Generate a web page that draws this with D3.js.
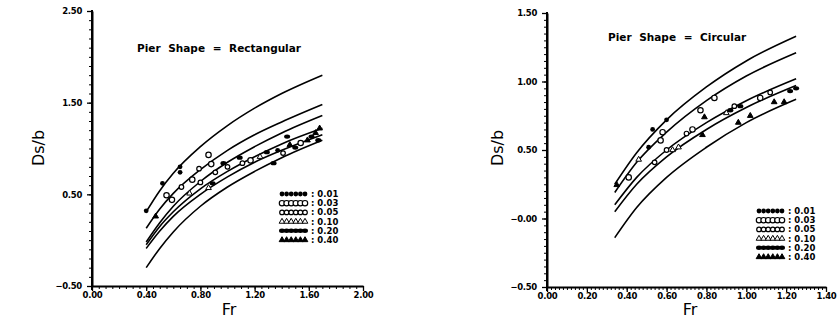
<!DOCTYPE html>
<html>
<head>
<meta charset="utf-8">
<script src="https://cdn.jsdelivr.net/npm/d3@7"></script>
<style>
  body { margin: 0; background: #fff; }
  svg { display: block; }
  .tick text { font-family: "DejaVu Sans", sans-serif; font-weight: bold; font-size: 8.5px; letter-spacing: -0.3px; fill: #000; }
</style>
</head>
<body>
<div id="chart"></div>
<script>
// legend / series labels (pier width ratio)
const seriesLabels = ["0.01", "0.03", "0.05", "0.10", "0.20", "0.40"];

// tick values
const rectXTicks = [0, 0.4, 0.8, 1.2, 1.6, 2.0];
const rectYTicks = [-0.5, 0.5, 1.5, 2.5];
const circXTicks = [0, 0.2, 0.4, 0.6, 0.8, 1.0, 1.2, 1.4];
const circYTicks = [-0.5, 0, 0.5, 1.0, 1.5];

// fitted curves, rectangular pier
const rectCurveFr = [0.4, 0.5, 0.6, 0.8, 1.0, 1.2, 1.4, 1.7];
const rectCurves = [
  [0.31, 0.54, 0.73, 1.02, 1.25, 1.44, 1.60, 1.80],
  [0.13, 0.34, 0.51, 0.77, 0.98, 1.15, 1.29, 1.48],
  [-0.02, 0.19, 0.37, 0.64, 0.85, 1.02, 1.17, 1.36],
  [-0.05, 0.15, 0.31, 0.56, 0.75, 0.91, 1.05, 1.22],
  [-0.09, 0.10, 0.26, 0.50, 0.69, 0.85, 0.98, 1.15],
  [-0.30, -0.09, 0.09, 0.37, 0.58, 0.75, 0.90, 1.09]
];

// fitted curves, circular pier
const circCurveFr = [0.34, 0.45, 0.6, 0.8, 1.0, 1.25];
const circCurves = [
  [0.25, 0.48, 0.72, 0.96, 1.15, 1.33],
  [0.19, 0.41, 0.63, 0.86, 1.04, 1.21],
  [0.10, 0.30, 0.50, 0.70, 0.86, 1.02],
  [0.05, 0.25, 0.45, 0.65, 0.81, 0.97],
  [-0.14, 0.08, 0.30, 0.52, 0.70, 0.87]
];

// measured points: Fr, Ds/b, series index
const rectFr = [0.40, 0.47, 0.52, 0.55, 0.59, 0.65, 0.65, 0.66, 0.72, 0.74, 0.80, 0.79, 0.86, 0.88, 0.86, 0.89, 0.91, 0.97, 1.00, 1.09, 1.11, 1.17, 1.24, 1.29, 1.34, 1.37, 1.41, 1.44, 1.46, 1.50, 1.54, 1.59, 1.62, 1.65, 1.67, 1.68];
const rectDs = [0.32, 0.26, 0.62, 0.49, 0.44, 0.80, 0.74, 0.58, 0.51, 0.66, 0.63, 0.78, 0.93, 0.83, 0.57, 0.62, 0.74, 0.84, 0.80, 0.90, 0.84, 0.87, 0.91, 0.96, 0.84, 0.98, 0.95, 1.13, 1.04, 1.01, 1.06, 1.09, 1.13, 1.17, 1.09, 1.22];
const rectSer = [0, 5, 0, 1, 1, 0, 0, 2, 3, 1, 2, 2, 1, 1, 3, 4, 2, 4, 2, 4, 2, 1, 3, 4, 4, 0, 2, 4, 5, 4, 1, 5, 4, 5, 4, 5];

const circFr = [0.35, 0.41, 0.46, 0.51, 0.53, 0.57, 0.58, 0.60, 0.54, 0.60, 0.63, 0.66, 0.70, 0.73, 0.78, 0.77, 0.79, 0.84, 0.90, 0.92, 0.94, 0.97, 0.96, 1.02, 1.07, 1.12, 1.14, 1.19, 1.22, 1.25];
const circDs = [0.245, 0.30, 0.43, 0.52, 0.65, 0.57, 0.63, 0.72, 0.41, 0.50, 0.50, 0.52, 0.62, 0.65, 0.61, 0.79, 0.74, 0.88, 0.77, 0.79, 0.82, 0.82, 0.70, 0.75, 0.88, 0.92, 0.85, 0.85, 0.93, 0.95];
const circSer = [5, 1, 3, 0, 0, 1, 1, 0, 2, 2, 3, 3, 2, 1, 5, 1, 5, 1, 3, 4, 2, 4, 5, 5, 1, 2, 5, 5, 4, 4];

const width = 838, height = 321;
const svg = d3.select("#chart").append("svg")
  .attr("width", width)
  .attr("height", height);

// draw one marker of a given series at px, py
function marker(g, s, px, py) {
  if (s === 0) {
    g.append("circle").attr("cx", px).attr("cy", py).attr("r", 2.4).attr("fill", "#000");
  } else if (s === 1 || s === 2) {
    g.append("circle").attr("cx", px).attr("cy", py).attr("r", s === 1 ? 2.7 : 2.3)
      .attr("fill", "#fff").attr("stroke", "#000").attr("stroke-width", 1.2);
  } else if (s === 3 || s === 5) {
    g.append("path")
      .attr("transform", `translate(${px},${py})`)
      .attr("d", d3.symbol().type(d3.symbolTriangle).size(14)())
      .attr("fill", s === 5 ? "#000" : "#fff")
      .attr("stroke", "#000").attr("stroke-width", 1);
  } else {
    g.append("ellipse").attr("cx", px).attr("cy", py).attr("rx", 3).attr("ry", 2.2).attr("fill", "#000");
  }
}

function drawPanel(p) {
  const x = d3.scaleLinear().domain(p.xDomain).range(p.xRange);
  const y = d3.scaleLinear().domain(p.yDomain).range(p.yRange);
  const g = svg.append("g");

  // minor ticks
  g.append("g")
    .attr("transform", `translate(0,${p.yRange[0]})`)
    .call(d3.axisBottom(x).tickValues(p.xMinor).tickSize(3).tickSizeOuter(0).tickFormat(""))
    .call(a => a.select(".domain").remove());
  g.append("g")
    .attr("transform", `translate(${p.xRange[0]},0)`)
    .call(d3.axisLeft(y).tickValues(p.yMinor).tickSize(3).tickSizeOuter(0).tickFormat(""))
    .call(a => a.select(".domain").remove());

  // major ticks with labels
  const xa = g.append("g")
    .attr("transform", `translate(0,${p.yRange[0]})`)
    .call(d3.axisBottom(x).tickValues(p.xTicks).tickSize(5).tickSizeOuter(0).tickPadding(1).tickFormat(d3.format(".2f")));
  const ya = g.append("g")
    .attr("transform", `translate(${p.xRange[0]},0)`)
    .call(d3.axisLeft(y).tickValues(p.yTicks).tickSize(5).tickSizeOuter(0).tickPadding(5).tickFormat(p.yFormat));
  [xa, ya].forEach(a => {
    a.select(".domain").attr("stroke-width", 2).attr("stroke", "#000");
    a.selectAll(".tick line").attr("stroke", "#000").attr("stroke-width", 1.3);
  });
  g.selectAll(".tick line").attr("stroke", "#000");
  // little stub of the y axis below the x axis
  g.append("line")
    .attr("x1", p.xRange[0]).attr("x2", p.xRange[0])
    .attr("y1", p.yRange[1] - 1).attr("y2", p.yRange[0] + 4)
    .attr("stroke", "#000").attr("stroke-width", 2);

  // curves
  const line = d3.line().x(d => x(d[0])).y(d => y(d[1])).curve(d3.curveMonotoneX);
  p.curves.forEach(c => {
    g.append("path")
      .datum(p.curveFr.map((f, i) => [f, c[i]]))
      .attr("d", line)
      .attr("fill", "none").attr("stroke", "#000").attr("stroke-width", 1.6);
  });

  // points
  p.fr.forEach((f, i) => marker(g, p.ser[i], x(f), y(p.ds[i])));

  // title and axis titles
  g.append("text")
    .attr("x", p.titleX).attr("y", p.titleY)
    .style("font-family", "DejaVu Sans, sans-serif").style("font-weight", "bold")
    .style("font-size", "10.5px").style("word-spacing", "4px")
    .text(p.title);
  g.append("text")
    .attr("x", p.frX).attr("y", 315)
    .attr("text-anchor", "middle")
    .style("font-family", "DejaVu Sans, sans-serif").style("font-size", "16px")
    .text("Fr");
  g.append("text")
    .attr("transform", `translate(${p.dsX},148) rotate(-90)`)
    .attr("text-anchor", "middle")
    .style("font-family", "DejaVu Sans, sans-serif").style("font-size", "16px")
    .text("Ds/b");

  // legend
  const lg = g.append("g");
  seriesLabels.forEach((lab, i) => {
    const ly = p.legY + i * 9.2;
    for (let k = 0; k < 6; k++) marker(lg, i, p.legX + k * 4.6, ly);
    lg.append("text")
      .attr("x", p.legX + 29).attr("y", ly + 3)
      .style("font-family", "DejaVu Sans, sans-serif").style("font-weight", "bold").style("font-size", "8.5px")
      .text(": " + lab);
  });
}

const fmt2 = d3.format(".2f");
const minusFmt = v => (v <= 0 ? "\u2212" + fmt2(Math.abs(v)) : fmt2(v));

drawPanel({
  xDomain: [0, 2], xRange: [92, 363],
  yDomain: [-0.5, 2.5], yRange: [286, 11],
  xTicks: rectXTicks, yTicks: rectYTicks,
  xMinor: d3.range(0, 41).map(i => i * 0.05),
  yMinor: d3.range(0, 31).map(i => -0.5 + i * 0.1),
  yFormat: v => (v < 0 ? minusFmt(v) : fmt2(v)),
  curveFr: rectCurveFr, curves: rectCurves,
  fr: rectFr, ds: rectDs, ser: rectSer,
  title: "Pier Shape = Rectangular", titleX: 137, titleY: 52,
  frX: 229, dsX: 44,
  legX: 282, legY: 194
});

drawPanel({
  xDomain: [0, 1.4], xRange: [547, 826],
  yDomain: [-0.5, 1.5], yRange: [287, 13],
  xTicks: circXTicks, yTicks: circYTicks,
  xMinor: d3.range(0, 71).map(i => i * 0.02),
  yMinor: d3.range(0, 41).map(i => -0.5 + i * 0.05),
  yFormat: minusFmt,
  curveFr: circCurveFr, curves: circCurves,
  fr: circFr, ds: circDs, ser: circSer,
  title: "Pier Shape = Circular", titleX: 608, titleY: 41,
  frX: 690, dsX: 503,
  legX: 759, legY: 211
});
</script>
</body>
</html>
